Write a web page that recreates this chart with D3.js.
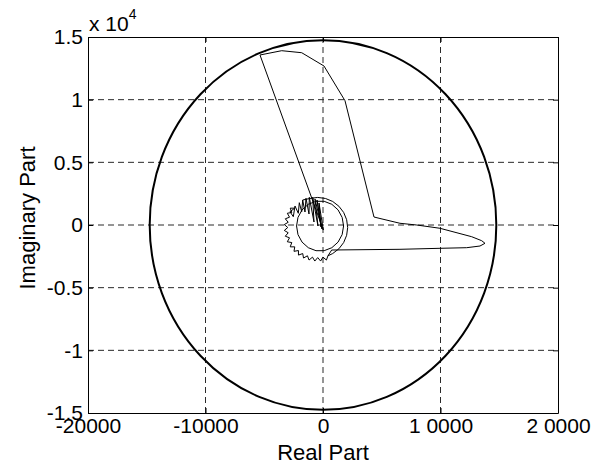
<!DOCTYPE html>
<html>
<head>
<meta charset="utf-8">
<script src="https://cdn.jsdelivr.net/npm/d3@7"></script>
<style>
  html, body { margin: 0; padding: 0; background: #fff; }
  svg { display: block; font-family: "Liberation Sans", Arial, Helvetica, sans-serif; }
</style>
</head>
<body>
<svg id="chart" width="604" height="466"></svg>
<script>
// Axis ticks and their printed labels
const xTicks = [-20000, -10000, 0, 10000, 20000];
const xTickLabels = ["-20000", "-10000", "0", "1 0000", "2 0000"];
const yTicks = [-15000, -10000, -5000, 0, 5000, 10000, 15000];
const yTickLabels = ["-1.5", "-1", "-0.5", "0", "0.5", "1", "1.5"];

// Radius of the reference circle centred on the origin
const circleRadius = 14750;

// Main response trace [real, imaginary]
const responsePath = [
  [26, -399], [-5362, 13564], [-3515, 13907], [-1813, 13747], [85, 12686],
  [1872, 9918], [4340, 638], [4851, 519], [6553, 136], [7974, 0],
  [9957, -263], [12655, -934], [13506, -1253], [13787, -1460], [13362, -1676],
  [12230, -1811], [9957, -1859], [6553, -1939], [740, -1995]
];

// Serrated lower-left ring, continuing from the end of the main trace
const ringPath = [
  [740, -1995], [422, -2456], [290, -2797], [-6, -2564], [-202, -2877], [-450, -2600],
  [-698, -2877], [-894, -2564], [-1190, -2797], [-1322, -2456], [-1658, -2635],
  [-1725, -2278], [-2089, -2401], [-2090, -2038], [-2469, -2100], [-2403, -1743],
  [-2789, -1743], [-2658, -1400], [-3038, -1337], [-2847, -1021], [-3209, -896],
  [-2962, -618], [-3295, -434], [-3000, -200], [-3295, 34], [-2962, 218],
  [-3209, 496], [-2847, 621], [-3038, 937], [-2658, 1000], [-2789, 1343],
  [-2403, 1343]
];

// Zig-zag fan folding back into the origin
const fanPath = [
  [-2403, 1343], [-2808, 1061], [-2527, 662], [-2383, 1516], [-2102, 934],
  [-2017, 1780], [-1813, 1061], [-1728, 1995], [-1532, 1037], [-1447, 2131],
  [-1191, 878], [-1166, 2210], [-766, 239], [-877, 2210], [-426, -80],
  [-681, 2075], [-85, -319], [-511, 1995], [-170, -160], [-340, 1756], [26, -399]
];

// Smooth right-hand arc of the outer ring
const outerArc = [
  [422, -2456], [825, -2278], [1353, -1897], [1758, -1400], [2013, -822],
  [2100, -200], [2013, 422], [1758, 1000], [1353, 1497], [825, 1878],
  [210, 2118], [-450, 2200], [-1110, 2118], [-1728, 1995]
];

// Inner closed loop near the origin
const innerLoop = [
  [1750, -80], [1630, 604], [1282, 1206], [750, 1652], [98, 1890],
  [-598, 1890], [-1250, 1652], [-1782, 1206], [-2130, 604], [-2250, -80],
  [-2130, -764], [-1782, -1366], [-1250, -1812], [-598, -2050], [98, -2050],
  [750, -1812], [1282, -1366], [1630, -764], [1750, -80]
];

const svg = d3.select("#chart");
const margin = { left: 88, right: 46, top: 37, bottom: 53 };
const W = 604, H = 466;
const plotW = W - margin.left - margin.right;
const plotH = H - margin.top - margin.bottom;

const x = d3.scaleLinear().domain([-20000, 20000]).range([margin.left, margin.left + plotW]);
const y = d3.scaleLinear().domain([-15000, 15000]).range([margin.top + plotH, margin.top]);

svg.append("rect").attr("width", W).attr("height", H).attr("fill", "#fff");

// Dashed grid
const grid = svg.append("g").attr("stroke", "#2a2a2a").attr("stroke-width", 1)
  .attr("stroke-dasharray", "6,4").attr("fill", "none");
xTicks.filter(v => v > -20000 && v < 20000).forEach(v => {
  grid.append("line").attr("x1", x(v)).attr("x2", x(v))
    .attr("y1", y(15000)).attr("y2", y(-15000));
});
yTicks.filter(v => v > -15000 && v < 15000).forEach(v => {
  grid.append("line").attr("x1", x(-20000)).attr("x2", x(20000))
    .attr("y1", y(v)).attr("y2", y(v));
});

// Reference circle
svg.append("ellipse")
  .attr("cx", x(0)).attr("cy", y(0))
  .attr("rx", x(circleRadius) - x(0)).attr("ry", y(0) - y(circleRadius))
  .attr("fill", "none").attr("stroke", "#000").attr("stroke-width", 2);

// Traces
const line = d3.line().x(d => x(d[0])).y(d => y(d[1]));
[responsePath, ringPath, fanPath, outerArc, innerLoop].forEach(series => {
  svg.append("path").datum(series).attr("d", line)
    .attr("fill", "none").attr("stroke", "#000").attr("stroke-width", 1)
    .attr("stroke-linejoin", "round");
});

// Axes with inward ticks
const tickFont = 21;
const titleFont = 22;
function styleAxis(g) {
  g.selectAll(".domain").attr("stroke", "#000").attr("fill", "none");
  g.selectAll(".tick line").attr("stroke", "#000");
  g.selectAll("text").attr("font-size", tickFont).attr("fill", "#000")
    .attr("font-family", "'Liberation Sans', Arial, sans-serif");
}

svg.append("g").attr("transform", `translate(0,${y(-15000)})`)
  .call(d3.axisBottom(x).tickValues(xTicks).tickFormat((d, i) => xTickLabels[i])
    .tickSizeInner(-5).tickSizeOuter(0).tickPadding(5))
  .call(styleAxis);
svg.append("g").attr("transform", `translate(0,${y(15000)})`)
  .call(d3.axisTop(x).tickValues(xTicks).tickFormat("")
    .tickSizeInner(-5).tickSizeOuter(0))
  .call(styleAxis);
svg.append("g").attr("transform", `translate(${x(-20000)},0)`)
  .call(d3.axisLeft(y).tickValues(yTicks).tickFormat((d, i) => yTickLabels[i])
    .tickSizeInner(-5).tickSizeOuter(0).tickPadding(5))
  .call(styleAxis);
svg.append("g").attr("transform", `translate(${x(20000)},0)`)
  .call(d3.axisRight(y).tickValues(yTicks).tickFormat("")
    .tickSizeInner(-5).tickSizeOuter(0))
  .call(styleAxis);

// Exponent marker
const expLabel = svg.append("text")
  .attr("x", x(-20000) + 1).attr("y", 31)
  .attr("font-size", tickFont).attr("fill", "#000");
expLabel.append("tspan").text("x 10");
expLabel.append("tspan").attr("dy", -12).attr("font-size", 14).text("4");

// Axis titles
svg.append("text")
  .attr("x", x(0)).attr("y", 460)
  .attr("text-anchor", "middle").attr("font-size", titleFont).attr("fill", "#000")
  .text("Real Part");
svg.append("text")
  .attr("transform", `translate(35,218) rotate(-90)`)
  .attr("text-anchor", "middle").attr("font-size", titleFont).attr("fill", "#000")
  .text("Imaginary Part");
</script>
</body>
</html>
